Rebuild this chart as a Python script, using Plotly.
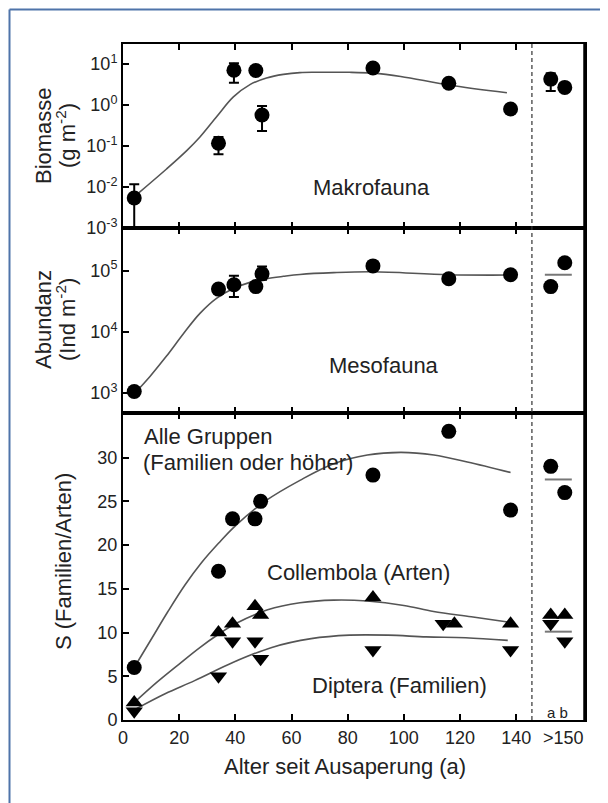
import plotly.graph_objects as go
from plotly.subplots import make_subplots

# ---------------- data ----------------
# x positions (age since deglaciation, a); last two are the ">150" sites a and b
macro_x = [4, 34, 39.5, 47.3, 49.5, 89, 116, 138, 152.3, 157.3]
macro_y = [0.0054, 0.117, 7.1, 7.0, 0.57, 8.0, 3.4, 0.80, 4.3, 2.7]
macro_hi = [0.0117, 0.166, 10.5, 7.0, 0.95, 8.0, 3.4, 0.80, 6.0, 2.7]
macro_lo = [0.0008, 0.063, 3.5, 7.0, 0.234, 8.0, 3.4, 0.80, 2.2, 2.7]

macro_fit_x = [5.5, 15.5, 22.6, 27.4, 33.4, 39.3, 45.2, 51.1, 57.1, 63, 69, 80.6, 89, 98.9, 116, 136.7]
macro_fit_y = [0.0071, 0.0275, 0.076, 0.166, 0.525, 1.58, 3.16, 4.57, 5.6, 6.2, 6.3, 6.3, 6.0, 5.0, 3.1, 2.0]

meso_x = [4, 34, 39.5, 47.3, 49.5, 89, 116, 138, 152.3, 157.3]
meso_y = [1050, 50000, 59000, 55000, 89000, 120000, 74000, 86000, 55000, 135000]
meso_hi = [1150, 55000, 83000, 55000, 117000, 120000, 82000, 86000, 55000, 135000]
meso_lo = [950, 45000, 37000, 55000, 71000, 120000, 66000, 86000, 55000, 135000]

meso_fit_x = [4.3, 9.6, 15.5, 21.5, 27.4, 33.4, 39.3, 45.2, 51.1, 57.1, 63, 75, 89, 116, 137.8]
meso_fit_y = [1000, 1860, 4000, 9300, 20000, 35500, 51000, 64500, 74000, 81000, 87000, 93000, 96000, 86000, 85000]

all_x = [4, 34, 39, 47, 49, 89, 116, 138, 152.3, 157.3]
all_y = [6, 17, 23, 23, 25, 28, 33, 24, 29, 26]
coll_x = [4, 34, 39, 47, 49, 89, 118, 138, 152.3, 157.3]
coll_y = [2, 10, 11, 13, 12, 14, 11, 11, 12, 12]
dipt_x = [4, 34, 39, 47, 49, 89, 114, 138, 152.3, 157.3]
dipt_y = [1, 5, 9, 9, 7, 8, 11, 8, 11, 9]

all_fit_x = [4, 10, 16, 22, 28, 34, 40, 51, 63, 75, 87, 99, 110.7, 122.6, 138]
all_fit_y = [6, 9.2, 12.4, 15.4, 18.0, 20.2, 22.2, 25.1, 27.4, 29.3, 30.3, 30.6, 30.3, 29.5, 28.3]
coll_fit_x = [4, 12, 20, 27, 34, 40, 51.5, 63, 75, 87, 100, 110.6, 124, 137]
coll_fit_y = [2, 4.3, 6.4, 8.2, 9.8, 11.0, 12.6, 13.4, 13.7, 13.6, 13.1, 12.4, 11.8, 11.2]
dipt_fit_x = [4.8, 15, 25.5, 39.3, 53, 67, 80.6, 94.4, 108, 122, 137]
dipt_fit_y = [1.3, 3.0, 4.5, 6.6, 8.3, 9.3, 9.7, 9.7, 9.5, 9.4, 9.1]

# means of sites a and b (short horizontal bars)
mean_x = [150.2, 159.8]
meso_mean = 86000
all_mean = 27.5
dipt_mean = 10.1

x_ticks = [0, 20, 40, 60, 80, 100, 120, 140]
old_label_x = 157
split_x = 145.6

# ---------------- figure ----------------
FONT = "Liberation Sans, Arial, sans-serif"
fig = make_subplots(rows=3, cols=1, shared_xaxes=True, vertical_spacing=0)

mk = dict(color="black", size=15, symbol="circle")
line_fit = dict(color="#555555", width=1.6, shape="spline", smoothing=1.0)
mean_line = dict(color="#777777", width=2)

def err(y, hi, lo):
    return dict(type="data", symmetric=False,
                array=[h - v for h, v in zip(hi, y)],
                arrayminus=[v - l for v, l in zip(y, lo)],
                color="black", thickness=2, width=5)

# panel 1 - Makrofauna
fig.add_trace(go.Scatter(x=macro_fit_x, y=macro_fit_y, mode="lines", line=line_fit), 1, 1)
fig.add_trace(go.Scatter(x=macro_x, y=macro_y, mode="markers", marker=mk, cliponaxis=False,
                         error_y=err(macro_y, macro_hi, macro_lo)), 1, 1)
# panel 2 - Mesofauna
fig.add_trace(go.Scatter(x=meso_fit_x, y=meso_fit_y, mode="lines", line=line_fit), 2, 1)
fig.add_trace(go.Scatter(x=mean_x, y=[meso_mean, meso_mean], mode="lines", line=mean_line), 2, 1)
fig.add_trace(go.Scatter(x=meso_x, y=meso_y, mode="markers", marker=mk, cliponaxis=False,
                         error_y=err(meso_y, meso_hi, meso_lo)), 2, 1)
# panel 3 - richness
for fx, fy in [(all_fit_x, all_fit_y), (coll_fit_x, coll_fit_y), (dipt_fit_x, dipt_fit_y)]:
    fig.add_trace(go.Scatter(x=fx, y=fy, mode="lines", line=line_fit), 3, 1)
fig.add_trace(go.Scatter(x=mean_x, y=[all_mean, all_mean], mode="lines", line=mean_line), 3, 1)
fig.add_trace(go.Scatter(x=mean_x, y=[dipt_mean, dipt_mean], mode="lines", line=mean_line), 3, 1)
fig.add_trace(go.Scatter(x=all_x, y=all_y, mode="markers", marker=mk, cliponaxis=False), 3, 1)
fig.add_trace(go.Scatter(x=coll_x, y=coll_y, mode="markers", cliponaxis=False,
                         marker=dict(color="black", size=15, symbol="triangle-up")), 3, 1)
fig.add_trace(go.Scatter(x=dipt_x, y=dipt_y, mode="markers", cliponaxis=False,
                         marker=dict(color="black", size=15, symbol="triangle-down")), 3, 1)

# geometry: plot area on the page x 123..585, y 44..720 px (page has an 8 px body margin)
H_TOT = 676
d3 = (0, 307 / H_TOT)
d2 = (307 / H_TOT, 492 / H_TOT)
d1 = (492 / H_TOT, 1)

xcommon = dict(range=[0, 164.5], tickvals=x_ticks, ticks="inside", ticklen=6, tickwidth=2,
               tickcolor="black", showline=True, linecolor="black", linewidth=2,
               mirror="ticks", showgrid=False, zeroline=False,
               tickfont=dict(family=FONT, size=18, color="#222"))
fig.update_xaxes(**xcommon)
fig.update_xaxes(showticklabels=False, row=1, col=1)
fig.update_xaxes(showticklabels=False, row=2, col=1)

ycommon = dict(ticks="inside", ticklen=6, tickwidth=2, tickcolor="black", showline=True,
               linecolor="black", linewidth=2, mirror=True, showgrid=False, zeroline=False,
               tickfont=dict(family=FONT, size=18, color="#222"))
fig.update_yaxes(**ycommon)
fig.update_yaxes(type="log", range=[-3, 1.49], domain=d1,
                 tickvals=[1e-3, 1e-2, 1e-1, 1, 10],
                 ticktext=["10<sup>-3</sup>", "10<sup>-2</sup>", "10<sup>-1</sup>",
                           "10<sup>0</sup>", "10<sup>1</sup>"], row=1, col=1)
fig.update_yaxes(type="log", range=[2.67, 5.70], domain=d2,
                 tickvals=[1e3, 1e4, 1e5],
                 ticktext=["10<sup>3</sup>", "10<sup>4</sup>", "10<sup>5</sup>"], row=2, col=1)
fig.update_yaxes(range=[0, 35.1], domain=d3, tickvals=[0, 5, 10, 15, 20, 25, 30], row=3, col=1)

def px_to_paper_x(px):
    return (px - 123) / 462

def px_to_paper_y(py):
    return (720 - py) / H_TOT

tfont = dict(family=FONT, size=22, color="#222")
ann = []
# axis titles
for txt, xpx, ypx in [("Biomasse", 43, 136), ("(g m<sup>-2</sup>)", 66, 136),
                      ("Abundanz", 43, 320), ("(Ind m<sup>-2</sup>)", 66, 320),
                      ("S (Familien/Arten)", 63, 562)]:
    ann.append(dict(text=txt, xref="paper", yref="paper", x=px_to_paper_x(xpx),
                    y=px_to_paper_y(ypx), textangle=-90, showarrow=False,
                    xanchor="center", yanchor="middle", font=tfont))
ann.append(dict(text="Alter seit Ausaperung (a)", xref="paper", yref="paper",
                x=px_to_paper_x(345), y=px_to_paper_y(766), showarrow=False,
                xanchor="center", yanchor="middle", font=tfont))
ann.append(dict(text="&gt;150", xref="x3", yref="paper", x=old_label_x,
                y=px_to_paper_y(738), showarrow=False, xanchor="center", yanchor="middle",
                font=dict(family=FONT, size=18, color="#222")))
# panel labels
ann.append(dict(text="Makrofauna", xref="x", yref="y", x=88.6, y=-2.0, showarrow=False,
                xanchor="center", yanchor="middle", font=tfont))
ann.append(dict(text="Mesofauna", xref="x2", yref="y2", x=92.9, y=3.44, showarrow=False,
                xanchor="center", yanchor="middle", font=tfont))
ann.append(dict(text="Alle Gruppen", xref="x3", yref="y3", x=6.6,
                y=32.4, showarrow=False, xanchor="left", yanchor="middle", font=tfont))
ann.append(dict(text="(Familien oder höher)", xref="x3", yref="y3", x=6.3,
                y=29.4, showarrow=False, xanchor="left", yanchor="middle", font=tfont))
ann.append(dict(text="Collembola (Arten)", xref="x3", yref="y3", x=50.5, y=16.9,
                showarrow=False, xanchor="left", yanchor="middle", font=tfont))
ann.append(dict(text="Diptera (Familien)", xref="x3", yref="y3", x=66.5, y=4.0,
                showarrow=False, xanchor="left", yanchor="middle", font=tfont))
ann.append(dict(text="a b", xref="x3", yref="y3", x=154.8, y=0.9, showarrow=False,
                xanchor="center", yanchor="middle",
                font=dict(family=FONT, size=15, color="#222")))

shapes = [
    dict(type="line", xref="x3", yref="paper", x0=split_x, x1=split_x, y0=0, y1=1,
         line=dict(color="#333", width=1.2, dash="4px,3px")),
    dict(type="line", xref="paper", yref="paper", x0=1, x1=1, y0=0, y1=1,
         line=dict(color="black", width=3.5)),
    # blue frame (left and top), as close to the page corner as the figure allows
    dict(type="line", xref="paper", yref="paper", x0=px_to_paper_x(9.5), x1=px_to_paper_x(9.5),
         y0=px_to_paper_y(830), y1=px_to_paper_y(9.5), line=dict(color="#4f74aa", width=2)),
    dict(type="line", xref="paper", yref="paper", x0=px_to_paper_x(9.5), x1=px_to_paper_x(640),
         y0=px_to_paper_y(9.5), y1=px_to_paper_y(9.5), line=dict(color="#4f74aa", width=2)),
]

fig.update_layout(width=600, height=795, margin=dict(l=115, r=23, t=36, b=83),
                  paper_bgcolor="white", plot_bgcolor="white", showlegend=False,
                  annotations=ann, shapes=shapes, font=dict(family=FONT))

fig.write_html("out.html")
